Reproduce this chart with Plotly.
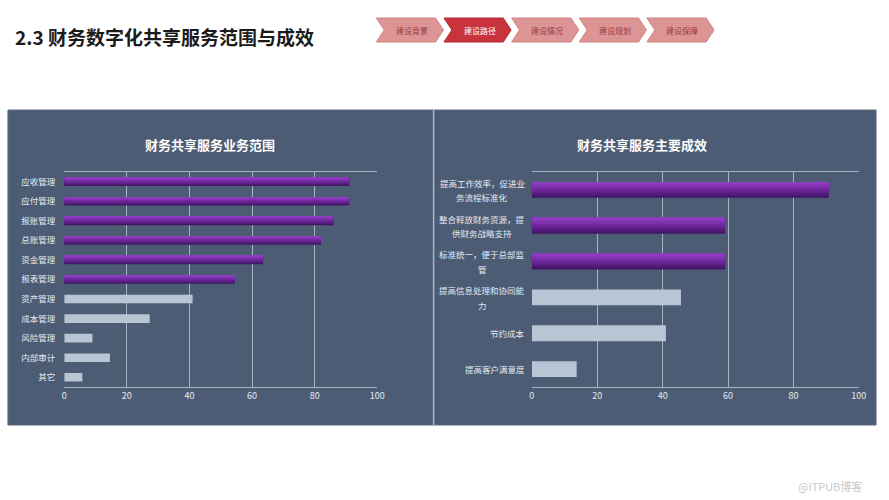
import plotly.graph_objects as go

W, H = 889, 500

# ---- data ----
page_title = "2.3 财务数字化共享服务范围与成效"
nav_items = ["建设背景", "建设路径", "建设情况", "建设规划", "建设保障"]
nav_active = 1

left_title = "财务共享服务业务范围"
left_cats = ["应收管理", "应付管理", "报账管理", "总账管理", "资金管理", "报表管理",
             "资产管理", "成本管理", "风险管理", "内部审计", "其它"]
left_vals = [91, 91, 86, 82, 63.5, 54.5, 41, 27.3, 9, 14.6, 5.8]
left_highlight = 6

right_title = "财务共享服务主要成效"
right_cats = ["提高工作效率，促进业\n务流程标准化", "整合释放财务资源，提\n供财务战略支持",
              "标准统一，便于总部监\n管", "提高信息处理和协同能\n力", "节约成本", "提高客户满意度"]
right_vals = [90.8, 59.1, 59.1, 45.6, 41, 13.7]
right_highlight = 3

x_ticks = [0, 20, 40, 60, 80, 100]
watermark = "@ITPUB博客"

# ---- style ----
FONT = "Noto Sans CJK SC"
PANEL = "#4c5c74"
PURPLE_BANDS = ["#421665", "#4f1b76", "#5c2086", "#692595", "#742aa2",
                "#7e30ad", "#8636b6", "#8c3cbc"]  # bottom (dark) -> top (light)
LIGHT = "#b9c5d5"
GRID = "#a9b3c1"
LABEL = "#e6eaf0"
LBL_SIZE = 8.5
BAR_W = 0.44


def px(x):
    return x / W


def py(y):
    return 1 - y / H


fig = go.Figure()


def add_bars(cats, vals, n_hi, xa, ya):
    # light (non-highlighted) bars
    fig.add_trace(go.Bar(y=cats[n_hi:], x=vals[n_hi:], orientation="h", xaxis=xa, yaxis=ya,
                         width=BAR_W, offset=-BAR_W / 2,
                         marker=dict(color=LIGHT, line=dict(width=0)),
                         showlegend=False, hoverinfo="x+y"))
    # highlighted bars with a vertical purple gradient (stacked overlay bands)
    nb = len(PURPLE_BANDS)
    for k, col in enumerate(PURPLE_BANDS):
        w = BAR_W * (nb - k) / nb
        fig.add_trace(go.Bar(y=cats[:n_hi], x=vals[:n_hi], orientation="h", xaxis=xa, yaxis=ya,
                             width=w, offset=-BAR_W / 2,
                             marker=dict(color=col, line=dict(width=0)),
                             showlegend=False, hoverinfo="x+y" if k == 0 else "skip"))


right_keys = [c.replace("\n", "") for c in right_cats]
add_bars(left_cats, left_vals, left_highlight, "x", "y")
add_bars(right_keys, right_vals, right_highlight, "x2", "y2")

xaxis_common = dict(range=[0, 100], tickvals=x_ticks, showgrid=True, gridcolor=GRID, gridwidth=1,
                    zeroline=False, showline=True, linecolor=GRID, linewidth=1, mirror=True,
                    tickfont=dict(family=FONT, size=9, color=LABEL), ticks="", fixedrange=True)

fig.update_layout(
    width=W, height=H, margin=dict(l=0, r=0, t=0, b=0),
    paper_bgcolor="white", plot_bgcolor=PANEL,
    font=dict(family=FONT),
    barmode="overlay",
    xaxis=dict(domain=[px(62), px(379)], anchor="y", **xaxis_common),
    yaxis=dict(domain=[py(387), py(172)], anchor="x", autorange="reversed",
               categoryorder="array", categoryarray=left_cats,
               showgrid=False, showline=False, zeroline=False, ticks="",
               ticklabelstandoff=8,
               tickfont=dict(family=FONT, size=LBL_SIZE, color=LABEL)),
    xaxis2=dict(domain=[px(535.5), px(866.5)], anchor="y2", **xaxis_common),
    yaxis2=dict(domain=[py(387), py(172)], anchor="x2", autorange="reversed",
                categoryorder="array", categoryarray=right_keys,
                showgrid=False, showline=False, zeroline=False, ticks="",
                showticklabels=False),
)

shapes = []
# dark panel
shapes.append(dict(type="rect", xref="paper", yref="paper", x0=px(5), x1=px(884), y0=py(425), y1=py(110),
                   fillcolor=PANEL, line=dict(color="#5e6b7e", width=1), layer="below"))
# divider
shapes.append(dict(type="line", xref="paper", yref="paper", x0=px(436), x1=px(436), y0=py(425), y1=py(110),
                   line=dict(color="#aab6c6", width=1.5)))

annotations = []
# nav chevrons
pitch = 68.5
for i, name in enumerate(nav_items):
    left = 378 + pitch * i
    top, bot, mid = 18, 42, 30
    pts = [(left, top), (left + 60, top), (left + 68, mid), (left + 60, bot), (left, bot), (left + 8, mid)]
    path = "M " + " L ".join(f"{px(a):.5f},{py(b):.5f}" for a, b in pts) + " Z"
    active = i == nav_active
    shapes.append(dict(type="path", xref="paper", yref="paper", path=path,
                       fillcolor="#c9333b" if active else "#dc9594",
                       line=dict(color="#b52a33" if active else "#d08584", width=1)))
    annotations.append(dict(x=px(left + 36), y=py(mid), xref="paper", yref="paper", showarrow=False,
                            text=name, xanchor="center", yanchor="middle",
                            font=dict(family=FONT, size=8, color="white" if active else "#9a3a40")))

# page title
annotations.append(dict(x=px(10), y=py(37), xref="paper", yref="paper", showarrow=False,
                        text=f"<b>{page_title}</b>", xanchor="left", yanchor="middle",
                        font=dict(family=FONT, size=19, color="#1b1b1b")))
# chart titles
annotations.append(dict(x=px(210), y=py(144), xref="paper", yref="paper", showarrow=False,
                        text=f"<b>{left_title}</b>", xanchor="center", yanchor="middle",
                        font=dict(family=FONT, size=13, color="white")))
annotations.append(dict(x=px(646.5), y=py(144), xref="paper", yref="paper", showarrow=False,
                        text=f"<b>{right_title}</b>", xanchor="center", yanchor="middle",
                        font=dict(family=FONT, size=13, color="white")))

# right category labels (multi-line, lines centred on each other, block right-aligned)
label_right = 528
for cat, key in zip(right_cats, right_keys):
    lines = cat.split("\n")
    n = len(lines)
    maxlen = max(len(ln) for ln in lines)
    cx = label_right - maxlen * LBL_SIZE / 2
    for j, ln in enumerate(lines):
        annotations.append(dict(x=px(cx), y=key, xref="paper", yref="y2", showarrow=False,
                                text=ln, xanchor="center",
                                yanchor="middle", yshift=((n - 1) / 2 - j) * 14.5,
                                font=dict(family=FONT, size=LBL_SIZE, color=LABEL)))

# watermark
annotations.append(dict(x=px(872), y=py(486), xref="paper", yref="paper", showarrow=False,
                        text=watermark, xanchor="right", yanchor="middle",
                        font=dict(family=FONT, size=11, color="#c9c9c9")))

fig.update_layout(shapes=shapes, annotations=annotations)
fig.write_html("out.html", config={"displayModeBar": False},
               post_script="document.documentElement.style.overflow='hidden';"
                           "document.body.style.margin='0';document.body.style.overflow='hidden';")
